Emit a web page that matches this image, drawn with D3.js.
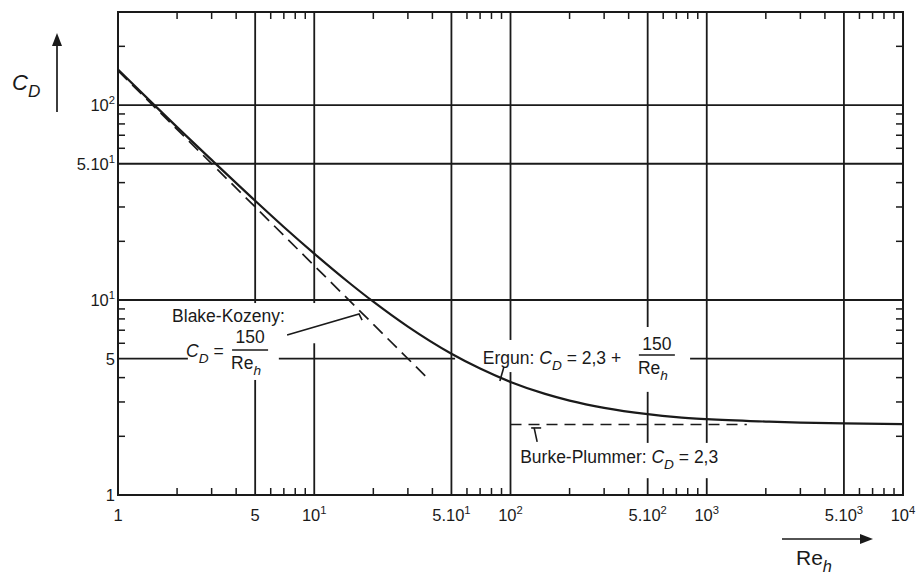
<!DOCTYPE html>
<html>
<head>
<meta charset="utf-8">
<title>Ergun: C_D vs Re_h</title>
<style>
  body { margin: 0; background: #fff; }
  svg { display: block; }
  text { font-family: "Liberation Sans", Arial, Helvetica, sans-serif; fill: #1a1a1a; }
  .grid, .frame, .tick { stroke: #1a1a1a; fill: none; }
</style>
</head>
<body>
<svg id="chart" width="917" height="574"></svg>
<script src="https://cdn.jsdelivr.net/npm/d3@7"></script>
<script>
// values
const ergunRe = [1, 1.5, 2, 3, 5, 7, 10, 15, 20, 30, 50, 70, 100, 150, 200, 300, 500, 700, 1000, 2000, 3000, 5000, 10000];
const ergunCd = [152, 102, 77, 52.3, 32.3, 23.7, 17.3, 12.3, 9.8, 7.3, 5.3, 4.45, 3.8, 3.3, 3.05, 2.8, 2.6, 2.51, 2.45, 2.38, 2.35, 2.33, 2.31];
const blakeRe = [1, 38];
const blakeCd = [150, 3.95];
const burkeRe = [100, 1600];
const burkeCd = [2.3, 2.3];

const gridRe = [5, 10, 50, 100, 500, 1000, 5000];
const gridCd = [5, 10, 50, 100];
const xTicks = [
  [1, [["1"]]], [5, [["5"]]], [10, [["10"], ["1", "sup"]]], [50, [["5.10"], ["1", "sup"]]],
  [100, [["10"], ["2", "sup"]]], [500, [["5.10"], ["2", "sup"]]], [1000, [["10"], ["3", "sup"]]],
  [5000, [["5.10"], ["3", "sup"]]], [10000, [["10"], ["4", "sup"]]]
];
const yTicks = [
  [1, [["1"]]], [5, [["5"]]], [10, [["10"], ["1", "sup"]]], [50, [["5.10"], ["1", "sup"]]], [100, [["10"], ["2", "sup"]]]
];

// where the grid is interrupted by the labels: [Re0, Re1, Cd0, Cd1]
const gaps = [
  [2.27, 6.6, 3.89, 9.65],
  [8.5, 12, 6.0, 9.65],
  [52.2, 822, 4.27, 6.24],
  [406, 822, 3.38, 7.27],
  [112, 1393, 1.22, 1.85]
];

const svg = d3.select("#chart");
const x = d3.scaleLog().domain([1, 10000]).range([118, 903]);
const y = d3.scaleLog().domain([1, 300]).range([495, 12]);

const rich = (sel, parts, size) => {
  let shift = 0;
  parts.forEach(([str, kind = ""]) => {
    let target = 0, fs = size;
    if (kind.includes("sub")) { target = size * 0.32; fs = size * 0.78; }
    if (kind.includes("sup")) { target = -size * 0.42; fs = size * 0.68; }
    sel.append("tspan")
      .attr("dy", target - shift)
      .attr("font-size", fs)
      .attr("font-style", kind.includes("i") ? "italic" : null)
      .text(str);
    shift = target;
  });
  return sel;
};

// grid
const minor = [];
[1, 10, 100, 1000].forEach(d => [2, 3, 4, 6, 7, 8, 9].forEach(m => minor.push(d * m)));
const g = svg.append("g");
g.selectAll(".gx").data(gridRe).enter().append("line")
  .attr("class", "grid").attr("stroke-width", 1.8)
  .attr("x1", d => x(d)).attr("x2", d => x(d))
  .attr("y1", y(300)).attr("y2", y(1));
g.selectAll(".gy").data(gridCd).enter().append("line")
  .attr("class", "grid").attr("stroke-width", 1.8)
  .attr("x1", x(1)).attr("x2", x(10000))
  .attr("y1", d => y(d)).attr("y2", d => y(d));

g.selectAll(".gap").data(gaps).enter().append("rect")
  .attr("fill", "#fff")
  .attr("x", d => x(d[0])).attr("width", d => x(d[1]) - x(d[0]))
  .attr("y", d => y(d[3])).attr("height", d => y(d[2]) - y(d[3]));

// minor ticks on all four sides
const tl = 7;
const ticksX = minor.filter(v => v < 10000);
const ticksY = minor.filter(v => v < 300 && v > 1);
g.selectAll(".tb").data(ticksX).enter().append("line").attr("class", "tick").attr("stroke-width", 1.5)
  .attr("x1", d => x(d)).attr("x2", d => x(d)).attr("y1", y(1)).attr("y2", y(1) - tl);
g.selectAll(".tt").data(ticksX).enter().append("line").attr("class", "tick").attr("stroke-width", 1.5)
  .attr("x1", d => x(d)).attr("x2", d => x(d)).attr("y1", y(300)).attr("y2", y(300) + tl);
g.selectAll(".tl").data(ticksY).enter().append("line").attr("class", "tick").attr("stroke-width", 1.5)
  .attr("y1", d => y(d)).attr("y2", d => y(d)).attr("x1", x(1)).attr("x2", x(1) + tl);
g.selectAll(".tr").data(ticksY).enter().append("line").attr("class", "tick").attr("stroke-width", 1.5)
  .attr("y1", d => y(d)).attr("y2", d => y(d)).attr("x1", x(10000)).attr("x2", x(10000) - tl);

g.append("rect").attr("class", "frame").attr("stroke-width", 2)
  .attr("x", x(1)).attr("y", y(300))
  .attr("width", x(10000) - x(1)).attr("height", y(1) - y(300));

// curves
const ink = "#1a1a1a";
const line = d3.line().x(d => x(d[0])).y(d => y(d[1]));
svg.append("path").datum(blakeRe.map((r, i) => [r, blakeCd[i]]))
  .attr("d", line).attr("fill", "none").attr("stroke", ink)
  .attr("stroke-width", 1.7).attr("stroke-dasharray", "13,7");
svg.append("path").datum(burkeRe.map((r, i) => [r, burkeCd[i]]))
  .attr("d", line).attr("fill", "none").attr("stroke", ink)
  .attr("stroke-width", 1.6).attr("stroke-dasharray", "11,7");
svg.append("path").datum(ergunRe.map((r, i) => [r, ergunCd[i]]))
  .attr("d", line.curve(d3.curveMonotoneX)).attr("fill", "none").attr("stroke", ink)
  .attr("stroke-width", 2.2);

// tick labels
const fs = 16.5;
xTicks.forEach(([v, parts]) => {
  rich(svg.append("text").attr("x", x(v)).attr("y", y(1) + 26).attr("text-anchor", "middle"), parts, fs);
});
yTicks.forEach(([v, parts]) => {
  rich(svg.append("text").attr("x", x(1) - 3).attr("y", y(v) + 6).attr("text-anchor", "end"), parts, fs);
});

// axis titles with arrows
rich(svg.append("text").attr("x", 12).attr("y", 90), [["C", "i"], ["D", "i sub"]], 22);
svg.append("line").attr("x1", 57).attr("x2", 57).attr("y1", 112).attr("y2", 44).attr("stroke", ink).attr("stroke-width", 1.7);
svg.append("path").attr("d", "M57,33 L52,46 L62,46 Z").attr("fill", ink);
rich(svg.append("text").attr("x", 796).attr("y", 565), [["Re"], ["h", "i sub"]], 21);
svg.append("line").attr("x1", 782).attr("x2", 862).attr("y1", 539).attr("y2", 539).attr("stroke", ink).attr("stroke-width", 1.7);
svg.append("path").attr("d", "M873,539 L860,534 L860,544 Z").attr("fill", ink);

// annotations
const lf = 17.5;
const frac = (ax, ay, half, top, bottom) => {
  rich(svg.append("text").attr("x", ax).attr("y", ay + top).attr("text-anchor", "middle"), [["150"]], lf);
  svg.append("line").attr("x1", ax - half).attr("x2", ax + half).attr("y1", ay).attr("y2", ay)
    .attr("stroke", ink).attr("stroke-width", 1.5);
  rich(svg.append("text").attr("x", ax - 4).attr("y", ay + bottom).attr("text-anchor", "middle"), [["Re"], ["h", "i sub"]], lf);
};
const leader = pts => svg.append("path").attr("d", d3.line()(pts)).attr("fill", "none")
  .attr("stroke", ink).attr("stroke-width", 1.6);

// Blake-Kozeny
let ax = x(4.71), ay = y(5.54);
rich(svg.append("text").attr("x", ax - 78).attr("y", ay - 28), [["Blake-Kozeny:"]], lf);
rich(svg.append("text").attr("x", ax - 64).attr("y", ay + 7), [["C", "i"], ["D", "i sub"], [" = "]], lf);
frac(ax, ay, 18, -7, 19);
leader([[ax + 37, ay - 15], [ax + 109, ay - 36], [ax + 112, ay - 30]]);

// Ergun
ax = x(557); ay = y(5.22);
rich(svg.append("text").attr("x", ax - 174).attr("y", ay + 9),
  [["Ergun: "], ["C", "i"], ["D", "i sub"], [" = 2,3 +"]], lf);
frac(ax, ay, 18, -5, 19);
leader([[ax - 157, ay + 26], [ax - 153, ay + 12]]);

// Burke-Plummer
ax = x(112); ay = y(1.46);
rich(svg.append("text").attr("x", ax).attr("y", ay),
  [["Burke-Plummer: "], ["C", "i"], ["D", "i sub"], [" = 2,3"]], lf);
leader([[ax + 11, ay - 35], [ax + 21, ay - 35]]);
leader([[ax + 14, ay - 35], [ax + 17, ay - 21]]);
</script>
</body>
</html>
